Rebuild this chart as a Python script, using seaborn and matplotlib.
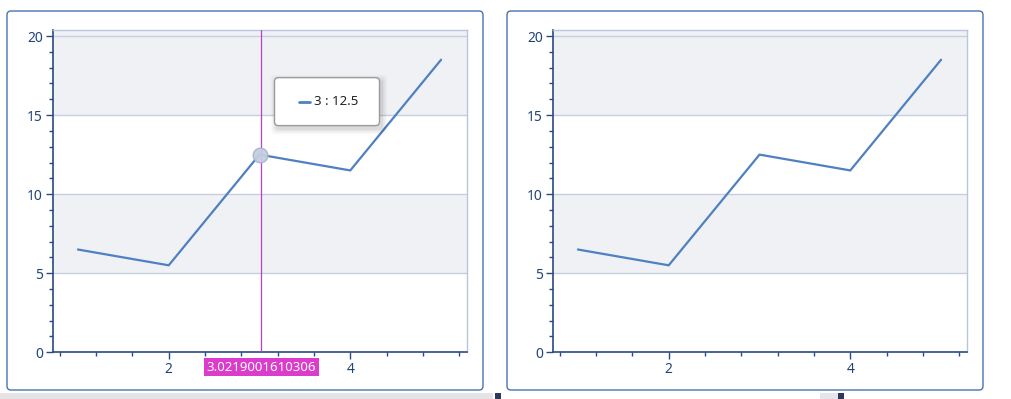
import numpy as np
import pandas as pd
import seaborn as sns
import matplotlib
matplotlib.use("Agg")
import matplotlib.pyplot as plt
from matplotlib.patches import FancyBboxPatch, Rectangle
from matplotlib.ticker import MultipleLocator, FixedLocator

# ---------------- data ----------------
x_values = [1, 2, 3, 4, 5]
y_values = [6.5, 5.5, 12.5, 11.5, 18.5]
y_major_ticks = [0, 5, 10, 15, 20]
x_major_ticks = [2, 4]
crosshair_x = 3.0219001610306
crosshair_label = "3.0219001610306"
hover_x = 3
hover_y = 12.5
tooltip_text = "3 : 12.5"

df = pd.DataFrame({"x": x_values, "y": y_values})

sns.set_style("white")
plt.rcParams["font.family"] = ["Noto Sans", "DejaVu Sans"]

W, H = 1011, 399
fig = plt.figure(figsize=(W / 100, H / 100), dpi=100)

# background overlay in pixel coordinates (panels, footer strip)
bg = fig.add_axes([0, 0, 1, 1], zorder=-10)
bg.set_xlim(0, W)
bg.set_ylim(H, 0)
bg.axis("off")

for (px0, px1) in [(7, 483), (507, 983)]:
    bg.add_patch(FancyBboxPatch((px0, 11), px1 - px0, 379,
                                boxstyle="round,pad=0,rounding_size=4",
                                facecolor="white", edgecolor="#4a72b0", lw=1.0))
# footer strip of the screenshot
bg.add_patch(Rectangle((0, 392.5), 493, 7, facecolor="#e4e4e7", edgecolor="none"))
bg.add_patch(Rectangle((495, 392.5), 6, 7, facecolor="#2b3a58", edgecolor="none"))
bg.add_patch(Rectangle((820, 392.5), 18, 7, facecolor="#e6e6ea", edgecolor="none"))
bg.add_patch(Rectangle((838, 392.5), 6, 7, facecolor="#2b3a58", edgecolor="none"))

tick_color = "#234379"
axis_dark = "#2a4a80"
axis_light = "#b9c6dc"
grid_color = "#c5cfe0"
band_color = "#f0f1f5"
line_color = "#4f80c2"

axes_px = [(52.5, 466.5), (552.5, 966.5)]
top_px, bot_px = 30, 352.3

axes = []
for (l, r) in axes_px:
    ax = fig.add_axes([l / W, 1 - bot_px / H, (r - l) / W, (bot_px - top_px) / H])
    ax.set_facecolor("none")
    ylim = (0, 20.38)
    ax.set_xlim(0.72, 5.28)
    ax.set_ylim(*ylim)
    # alternating bands
    ax.axhspan(5, 10, color=band_color, zorder=0, lw=0)
    ax.axhspan(15, ylim[1], color=band_color, zorder=0, lw=0)
    for yv in y_major_ticks[1:]:
        ax.axhline(yv, color=grid_color, lw=1.0, zorder=1)
    sns.lineplot(data=df, x="x", y="y", ax=ax, color=line_color, lw=1.6, zorder=3)
    ax.set_xlabel("")
    ax.set_ylabel("")
    ax.xaxis.set_major_locator(FixedLocator(x_major_ticks))
    ax.xaxis.set_minor_locator(FixedLocator(list(np.round(np.arange(0.8, 5.21, 0.4), 2))))
    ax.yaxis.set_major_locator(FixedLocator(y_major_ticks))
    ax.yaxis.set_minor_locator(MultipleLocator(1))
    ax.tick_params(axis="both", which="both", bottom=True, left=True, top=False, right=False)
    ax.tick_params(axis="both", which="major", length=5, width=1, color=axis_dark,
                   labelcolor=tick_color, labelsize=10, direction="out")
    ax.tick_params(axis="both", which="minor", length=3, width=1, color=axis_dark,
                   direction="out")
    ax.tick_params(axis="x", which="major", pad=2)
    ax.tick_params(axis="y", which="major", pad=2)
    for s in ["left", "bottom"]:
        ax.spines[s].set_color(axis_dark)
        ax.spines[s].set_linewidth(1.2)
        ax.spines[s].set_visible(True)
    for s in ["top", "right"]:
        ax.spines[s].set_color(axis_light)
        ax.spines[s].set_linewidth(1.0)
        ax.spines[s].set_visible(True)
    axes.append(ax)

# ---- interaction overlay on first chart ----
ax0 = axes[0]
ax0.axvline(crosshair_x, color="#c03cc0", lw=0.9, zorder=4)
ax0.plot([hover_x], [hover_y], marker="o", markersize=10.5,
         markerfacecolor="#c3cee0", markeredgecolor="#a6b6cf", markeredgewidth=1.0,
         zorder=5, alpha=0.95)
ax0.text(crosshair_x, -0.046, crosshair_label, transform=ax0.get_xaxis_transform(),
         ha="center", va="center", color="white", fontsize=9.5, zorder=6,
         bbox=dict(boxstyle="square,pad=0.2", facecolor="#dc3ccc", edgecolor="none"),
         clip_on=False)

# tooltip in pixel overlay positioned from data coordinates
fig.canvas.draw()
dx, dy = ax0.transData.transform((hover_x, hover_y))
px, py = dx, H - dy
fg = fig.add_axes([0, 0, 1, 1], zorder=20)
fg.set_xlim(0, W)
fg.set_ylim(H, 0)
fg.axis("off")
bx, by, bw, bh = px + 15, py - 77, 105, 48
for i, a in enumerate([0.05, 0.04, 0.03, 0.02]):
    off = 1.5 + i * 1.5
    fg.add_patch(FancyBboxPatch((bx - off + 2, by - off + 3), bw + 2 * off, bh + 2 * off,
                                boxstyle="round,pad=0,rounding_size=5",
                                facecolor="black", edgecolor="none", alpha=a))
fg.add_patch(FancyBboxPatch((bx, by), bw, bh, boxstyle="round,pad=0,rounding_size=4",
                            facecolor="white", edgecolor="#9a9a9a", lw=1.0))
fg.plot([bx + 24, bx + 35], [by + 24, by + 24], color=line_color, lw=2)
fg.text(bx + 40, by + 24, tooltip_text, ha="left", va="center", fontsize=9.5, color="#222222")

fig.savefig("out.png", dpi=100)
